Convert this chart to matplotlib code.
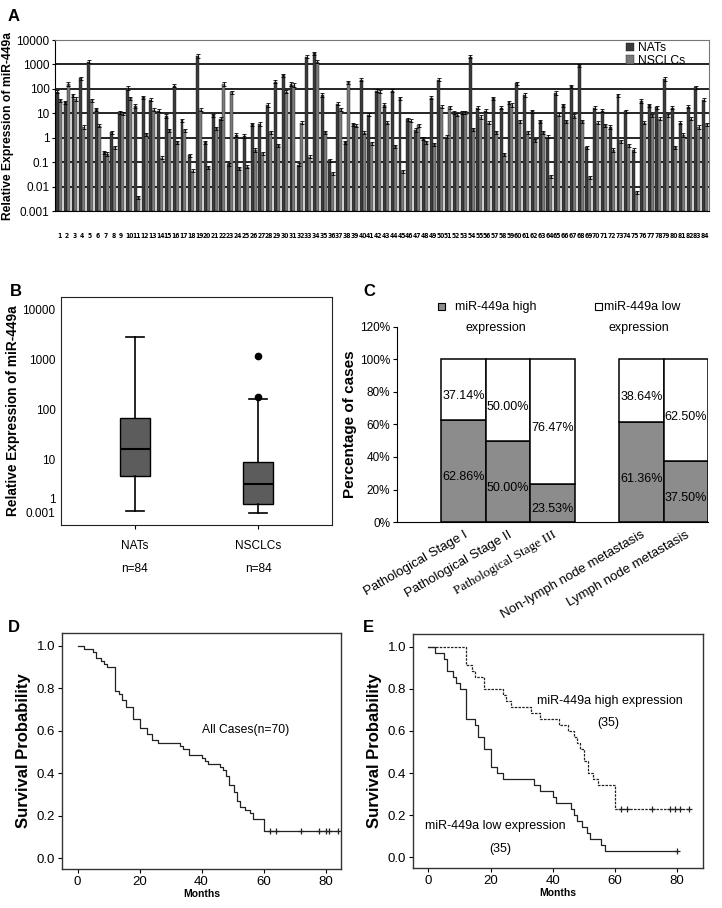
import matplotlib
matplotlib.use('Agg')
import matplotlib.pyplot as plt
from matplotlib.patches import Rectangle
import numpy as np

plt.rcParams['font.family'] = ['Liberation Sans', 'DejaVu Sans']

# ---- panel A: per-sample expression (log scale) ----
samples = list(range(1, 85))
nats = [77, 29, 54, 270, 1290, 14.5, 0.26, 1.7, 11, 110, 20, 46, 36, 13, 7.8, 137, 5.3,
        0.19, 2240, 0.64, 8.3, 6, 0.083, 1.3, 1.2, 3.5, 3.7, 22, 200, 370, 160, 0.08, 2100,
        2900, 57, 0.12, 25, 0.65, 3.5, 240, 8.9, 85, 22, 85, 42, 5.8, 2.1, 0.93, 44, 240,
        1.1, 10.7, 11, 2100, 17, 13, 42, 17, 29, 174, 57, 12, 4.8, 1.1, 69, 21, 130,
        940, 0.4, 17, 13, 2.8, 54, 12, 0.32, 32, 21, 18, 255, 17, 4.2, 19, 117, 36]
nsclc = [34, 160, 39, 2.8, 34, 3.1, 0.22, 0.4, 10, 42, 0.0037, 1.4, 14, 0.155, 2.0, 0.65, 2.0,
         0.045, 14, 0.063, 2.4, 160, 73, 0.057, 0.065, 0.32, 0.23, 1.7, 0.5, 78, 145, 4.2, 0.17,
         1300, 1.7, 0.035, 15, 190, 3.1, 1.6, 0.59, 78, 4.2, 0.44, 0.042, 5, 3.2, 0.65, 0.54, 19,
         18, 8.9, 10.6, 2.2, 7.1, 4.2, 1.7, 0.21, 22, 4.8, 1.7, 0.8, 1.7, 0.027, 8.9, 4.8, 7.8,
         4.8, 0.024, 4.2, 3.2, 0.32, 0.73, 0.5, 0.006, 4.2, 8.3, 6, 8.3, 0.4, 1.3, 6, 2.8, 3.5]
err_frac = 0.15

# ---- panel B: box plot summary ----
box_names = ['NATs', 'NSCLCs']
box_n = ['n=84', 'n=84']
box_low = [0.97, 0.88]
box_q1 = [4.8, 1.33]
box_med = [16.5, 3.3]
box_q3 = [68, 9.1]
box_high = [2780, 162]
box_fliers = [[], [178, 1170]]
b_ticks = [10000, 1000, 100, 10, 1.66, 0.87]
b_ticklabels = ['10000', '1000', '100', '10', '1', '0.001']

# ---- panel C: stacked percentages ----
c_groups = ['Pathological Stage I', 'Pathological Stage II', 'Pathological Stage III',
            'Non-lymph node metastasis', 'Lymph node metastasis']
c_high = [62.86, 50.00, 23.53, 61.36, 37.50]
c_low = [37.14, 50.00, 76.47, 38.64, 62.50]
c_pos = [1.5, 2.5, 3.5, 5.5, 6.5]

# ---- panel D: overall survival ----
d_t = [0, 2, 5, 6, 7.5, 8.5, 9.5, 12, 13.5, 14.5, 15.5, 18, 20, 22.5, 24, 26, 33, 34, 36,
       40, 41, 42, 46, 47, 48, 49, 50.5, 51.5, 52.5, 54, 55.5, 56.5, 60, 84]
d_s = [1.0, 0.986, 0.971, 0.943, 0.929, 0.914, 0.9, 0.786, 0.771, 0.743, 0.714, 0.657,
       0.614, 0.586, 0.557, 0.543, 0.529, 0.514, 0.486, 0.471, 0.457, 0.443, 0.429, 0.414,
       0.386, 0.343, 0.314, 0.271, 0.243, 0.229, 0.214, 0.186, 0.129, 0.129]
d_cens = [62, 64, 72, 78, 80, 81, 84]

# ---- panel E: survival by expression ----
hi_t = [0, 12, 14, 15, 18, 24, 25, 26.5, 33, 36, 42, 45, 47, 48, 49, 50, 51.5, 53, 54.5, 60, 84]
hi_s = [1.0, 0.914, 0.886, 0.857, 0.8, 0.771, 0.743, 0.714, 0.686, 0.657, 0.629, 0.6,
        0.571, 0.543, 0.514, 0.457, 0.4, 0.371, 0.343, 0.229, 0.229]
hi_cens = [62, 64, 72, 78, 79.5, 81, 84]
lo_t = [0, 2, 5, 6, 8, 9, 10, 12, 15, 16, 18, 20, 22, 24, 34, 36, 40, 41, 46, 47, 48, 49.5,
        51, 52, 55.5, 57, 80]
lo_s = [1.0, 0.971, 0.943, 0.886, 0.857, 0.829, 0.8, 0.657, 0.629, 0.571, 0.514, 0.429,
        0.4, 0.371, 0.343, 0.314, 0.286, 0.257, 0.229, 0.2, 0.171, 0.143, 0.114, 0.086,
        0.057, 0.029, 0.029]
lo_cens = [80]


fig = plt.figure(figsize=(7.22, 9.08), dpi=100)

# panel A
axA = fig.add_axes([0.0762, 0.7676, 0.9058, 0.1883])
x = np.array(samples)
w = 0.38
floor = 0.001
nats_a = np.array(nats)
nsclc_a = np.array(nsclc)
axA.set_yscale('log')
for yv in [0.01, 0.1, 1, 10, 100, 1000]:
    axA.axhline(yv, color='black', lw=1.2, zorder=1)
axA.bar(x - w / 2, nats_a - floor, bottom=floor, width=w, color='#3a3a3a',
        edgecolor='#1a1a1a', lw=0.3, label='NATs', zorder=2)
axA.bar(x + w / 2, nsclc_a - floor, bottom=floor, width=w, color='#7a7a7a',
        edgecolor='#1a1a1a', lw=0.3, label='NSCLCs', zorder=2)
axA.errorbar(x - w / 2, nats_a, yerr=nats_a * err_frac, fmt='none', ecolor='black',
             elinewidth=0.6, capsize=1.2, capthick=0.6, zorder=3)
axA.errorbar(x + w / 2, nsclc_a, yerr=nsclc_a * err_frac, fmt='none', ecolor='black',
             elinewidth=0.6, capsize=1.2, capthick=0.6, zorder=3)
axA.set_xlim(0.5, 84.5)
axA.set_ylim(0.001, 10000)
axA.set_yticks([0.001, 0.01, 0.1, 1, 10, 100, 1000, 10000])
axA.set_yticklabels(['0.001', '0.01', '0.1', '1', '10', '100', '1000', '10000'], fontsize=8.5)
axA.yaxis.set_minor_locator(matplotlib.ticker.NullLocator())
axA.set_xticks(x)
axA.set_xticklabels([str(s) for s in samples], fontsize=4.9, fontweight='bold',
                    family='DejaVu Sans', fontstretch='condensed')
axA.tick_params(axis='x', length=0, pad=16)
axA.tick_params(axis='y', length=2, pad=2)
axA.set_ylabel('Relative Expression of miR-449a', fontsize=8.7, fontweight='bold', labelpad=2)
for side in ['top', 'right']:
    axA.spines[side].set_color('#777777')
axA.legend(loc='upper left', bbox_to_anchor=(0.862, 1.03), frameon=False, fontsize=8.7,
           handlelength=0.7, handleheight=0.7, labelspacing=0.05, handletextpad=0.3,
           borderpad=0.1)
fig.text(0.011, 0.982, 'A', fontsize=12, fontweight='bold', va='center')

# panel B
axB = fig.add_axes([0.0845, 0.4218, 0.3753, 0.2511])
axB.set_yscale('log')
stats = []
for i in range(2):
    stats.append({'med': box_med[i], 'q1': box_q1[i], 'q3': box_q3[i],
                  'whislo': box_low[i], 'whishi': box_high[i], 'fliers': box_fliers[i]})
axB.bxp(stats, positions=[1, 2], widths=0.25, patch_artist=True, showfliers=True,
        boxprops=dict(facecolor='#5c5c5c', edgecolor='black', lw=1),
        medianprops=dict(color='black', lw=1.5),
        whiskerprops=dict(color='black', lw=1.2),
        capprops=dict(color='black', lw=1.2), capwidths=0.14,
        flierprops=dict(marker='o', markerfacecolor='black', markeredgecolor='black',
                        markersize=4.5))
axB.set_xlim(0.4, 2.6)
axB.set_ylim(0.5, 17400)
axB.set_yticks(b_ticks)
axB.set_yticklabels(b_ticklabels, fontsize=8.5)
axB.yaxis.set_minor_locator(matplotlib.ticker.NullLocator())
axB.set_xticks([1, 2])
axB.set_xticklabels(box_names, fontsize=8.6)
axB.tick_params(axis='x', length=3, pad=8)
axB.tick_params(axis='y', length=0, pad=4)
for i in range(2):
    axB.text(i + 1, -0.195, box_n[i], transform=axB.get_xaxis_transform(),
             ha='center', va='center', fontsize=8.6)
axB.set_ylabel('Relative Expression of miR-449a', fontsize=9.8, fontweight='bold', labelpad=2)
for sp in axB.spines.values():
    sp.set_color('#222222')
fig.text(0.013, 0.679, 'B', fontsize=12, fontweight='bold', va='center')

# panel C
axC = fig.add_axes([0.5499, 0.4251, 0.4307, 0.2148])
axC.bar(c_pos, c_high, width=1.0, color='#8c8c8c', edgecolor='black', lw=1.1)
axC.bar(c_pos, c_low, width=1.0, bottom=c_high, color='white', edgecolor='black', lw=1.1)
for i in range(len(c_pos)):
    axC.text(c_pos[i], c_high[i] / 2 - 4, '%.2f%%' % c_high[i], ha='center', va='center',
             fontsize=9)
    axC.text(c_pos[i], c_high[i] + c_low[i] / 2 - 4, '%.2f%%' % c_low[i], ha='center',
             va='center', fontsize=9)
axC.set_xlim(0, 7)
axC.set_ylim(0, 120)
axC.set_yticks(range(0, 121, 20))
axC.set_yticklabels(['%d%%' % v for v in range(0, 121, 20)], fontsize=8.5)
axC.set_xticks(c_pos)
axC.set_xticklabels(c_groups, rotation=30, ha='right', rotation_mode='anchor', fontsize=9.5)
axC.get_xticklabels()[2].set_family(['Liberation Serif', 'DejaVu Serif'])
axC.tick_params(axis='x', length=0, pad=5)
axC.tick_params(axis='y', length=3, pad=2)
axC.spines['top'].set_visible(False)
axC.spines['right'].set_visible(False)
axC.set_ylabel('Percentage of cases', fontsize=11, fontweight='bold', labelpad=2)
axC.add_patch(Rectangle((0.131, 1.087), 0.022, 0.034, transform=axC.transAxes,
                        facecolor='#8c8c8c', edgecolor='black', lw=0.8, clip_on=False))
axC.text(0.186, 1.103, 'miR-449a high', transform=axC.transAxes, fontsize=9, va='center')
axC.text(0.318, 0.995, 'expression', transform=axC.transAxes, fontsize=9, va='center',
         ha='center')
axC.add_patch(Rectangle((0.637, 1.087), 0.022, 0.034, transform=axC.transAxes,
                        facecolor='white', edgecolor='black', lw=0.8, clip_on=False))
axC.text(0.664, 1.103, 'miR-449a low', transform=axC.transAxes, fontsize=9, va='center')
axC.text(0.778, 0.995, 'expression', transform=axC.transAxes, fontsize=9, va='center',
         ha='center')
fig.text(0.503, 0.679, 'C', fontsize=12, fontweight='bold', va='center')


def km_axes(ax, xmax):
    ax.set_xlim(-5, xmax)
    ax.set_ylim(-0.05, 1.06)
    ax.set_xticks([0, 20, 40, 60, 80])
    ax.set_yticks([0.0, 0.2, 0.4, 0.6, 0.8, 1.0])
    ax.set_yticklabels(['0.0', '0.2', '0.4', '0.6', '0.8', '1.0'])
    ax.tick_params(labelsize=9.5, length=3, pad=2)
    ax.set_xlabel('Months', fontsize=7.5, fontweight='bold', labelpad=1)
    ax.set_ylabel('Survival Probability', fontsize=12, fontweight='bold', labelpad=4)
    for sp in ax.spines.values():
        sp.set_color('#333333')
        sp.set_linewidth(1.0)


# panel D
axD = fig.add_axes([0.0859, 0.0430, 0.3864, 0.2599])
axD.step(d_t, d_s, where='post', color='#222222', lw=0.9)
axD.plot(d_cens, [d_s[-1]] * len(d_cens), '+', color='#222222', ms=5, mew=0.9)
km_axes(axD, 85)
axD.text(40, 0.605, 'All Cases(n=70)', fontsize=8.7, va='center')
fig.text(0.011, 0.309, 'D', fontsize=12, fontweight='bold', va='center')

# panel E
axE = fig.add_axes([0.572, 0.0441, 0.4017, 0.2577])
axE.step(hi_t, hi_s, where='post', color='#222222', lw=0.9, linestyle=(0, (2, 1)))
axE.plot(hi_cens, [hi_s[-1]] * len(hi_cens), '+', color='#222222', ms=5, mew=0.9)
axE.step(lo_t, lo_s, where='post', color='#222222', lw=0.9)
axE.plot(lo_cens, [lo_s[-1]] * len(lo_cens), '+', color='#222222', ms=5, mew=0.9)
km_axes(axE, 88.5)
axE.text(35, 0.742, 'miR-449a high expression', fontsize=9, va='center')
axE.text(58, 0.64, '(35)', fontsize=9, va='center', ha='center')
axE.text(-1.2, 0.148, 'miR-449a low expression', fontsize=9, va='center')
axE.text(23.2, 0.038, '(35)', fontsize=9, va='center', ha='center')
fig.text(0.502, 0.309, 'E', fontsize=12, fontweight='bold', va='center')

fig.savefig('out.png', dpi=100)
